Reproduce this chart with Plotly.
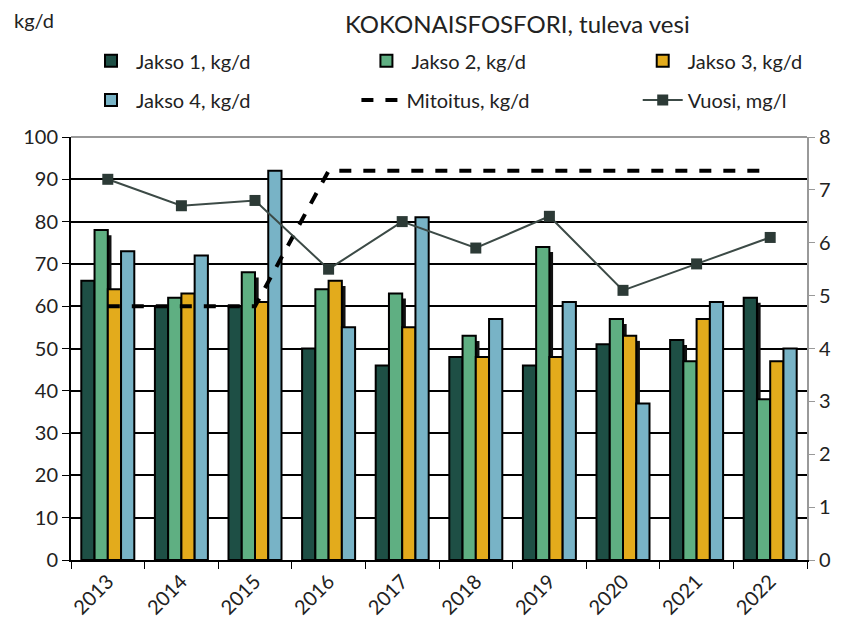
import plotly.graph_objects as go

years = ["2013", "2014", "2015", "2016", "2017", "2018", "2019", "2020", "2021", "2022"]
jakso1 = [66, 60, 60, 50, 46, 48, 46, 51, 52, 62]
jakso2 = [78, 62, 68, 64, 63, 53, 74, 57, 47, 38]
jakso3 = [64, 63, 61, 66, 55, 48, 48, 53, 57, 47]
jakso4 = [73, 72, 92, 55, 81, 57, 61, 37, 61, 50]
mitoitus = [60, 60, 60, 92, 92, 92, 92, 92, 92, 92]
vuosi = [7.2, 6.7, 6.8, 5.5, 6.4, 5.9, 6.5, 5.1, 5.6, 6.1]

FONT = "Lato"
W = 0.18
series = [
    ("Jakso 1, kg/d", jakso1, "#1e4f45", "legend"),
    ("Jakso 2, kg/d", jakso2, "#5faf82", "legend2"),
    ("Jakso 3, kg/d", jakso3, "#e3ab1c", "legend3"),
    ("Jakso 4, kg/d", jakso4, "#78b3c6", "legend4"),
]
start = -2 * W

fig = go.Figure()

# dark "shadow" strips to the right of the bars (like the Excel original)
for i, (name, vals, color, lg) in enumerate(series[:3]):
    fig.add_trace(go.Bar(
        x=years, y=[v - 1.2 for v in vals], offset=start + (i + 1) * W, width=0.05,
        marker=dict(color="#111111", line=dict(width=0)),
        showlegend=False, hoverinfo="skip",
    ))

for i, (name, vals, color, lg) in enumerate(series):
    fig.add_trace(go.Bar(
        x=years, y=vals, name=name, offset=start + i * W, width=W,
        marker=dict(color=color, line=dict(color="#000000", width=2)),
        legend=lg,
    ))

fig.add_trace(go.Scatter(
    x=years, y=mitoitus, name="Mitoitus, kg/d", mode="lines",
    line=dict(color="#000000", width=4, dash="dash"), legend="legend5",
))
fig.add_trace(go.Scatter(
    x=years, y=vuosi, name="Vuosi, mg/l", mode="lines+markers", yaxis="y2",
    line=dict(color="#3c4a46", width=2),
    marker=dict(symbol="square", size=11, color="#2c3a36"),
    legend="legend6",
))


def leg(x, y):
    return dict(x=x, y=y, xanchor="left", yanchor="middle", orientation="h",
                font=dict(size=20), bgcolor="rgba(0,0,0,0)", itemwidth=40)


# the html body adds an 8px margin on every side, so the figure is made smaller
fig.update_layout(
    width=826, height=614,
    margin=dict(l=63, r=27, t=129, b=62, autoexpand=False),
    paper_bgcolor="white", plot_bgcolor="white",
    font=dict(family=FONT, size=20, color="#222222"),
    barmode="overlay",
    showlegend=True,
    xaxis=dict(
        type="category", tickangle=-45, showgrid=False,
        ticks="outside", tickson="boundaries", ticklen=7, tickcolor="#000000",
        showline=True, linecolor="#000000", linewidth=2,
        tickfont=dict(size=20), range=[-0.5, 9.5],
    ),
    yaxis=dict(
        range=[0, 100], dtick=10, showgrid=True, gridcolor="#000000", gridwidth=1.5,
        ticks="outside", ticklen=7, tickcolor="#000000",
        showline=True, linecolor="#000000", linewidth=2, zeroline=False,
        tickfont=dict(size=20),
    ),
    yaxis2=dict(
        range=[0, 8], dtick=1, overlaying="y", side="right", showgrid=False,
        ticks="outside", ticklen=6, tickcolor="#999999",
        showline=True, linecolor="#999999", linewidth=2, zeroline=False,
        tickfont=dict(size=20),
    ),
    legend=leg(0.0204, 1.18),
    legend2=leg(0.3946, 1.18),
    legend3=leg(0.77, 1.18),
    legend4=leg(0.0204, 1.0875),
    legend5=leg(0.3878, 1.0875),
    legend6=leg(0.77, 1.0875),
    shapes=[dict(type="line", xref="paper", yref="paper", x0=0, x1=1, y0=1, y1=1,
                 line=dict(color="#999999", width=2))],
    annotations=[
        dict(text="KOKONAISFOSFORI, tuleva vesi", xref="paper", yref="paper",
             x=0.607, y=1.2695, xanchor="center", yanchor="middle", showarrow=False,
             font=dict(size=24)),
        dict(text="kg/d", xref="paper", yref="paper", x=-0.0803, y=1.2766,
             xanchor="left", yanchor="middle", showarrow=False, font=dict(size=20)),
    ],
)

fig.write_html("out.html")
